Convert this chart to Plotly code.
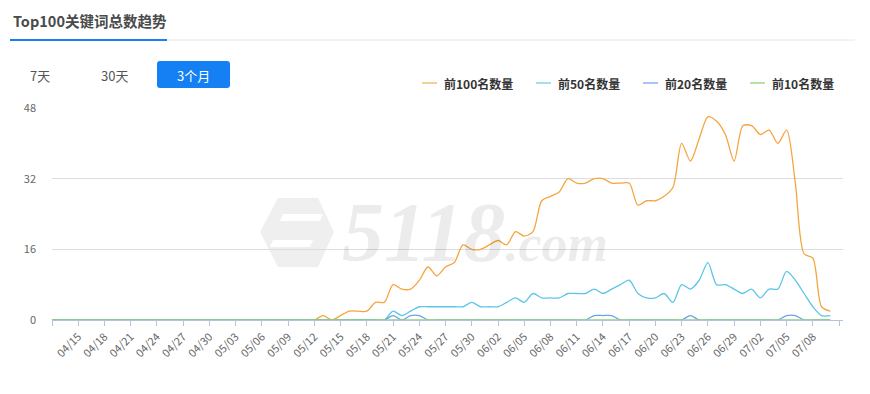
import plotly.graph_objects as go
import pandas as pd

# ---------------- data ----------------
dates = [d.strftime('%m/%d') for d in pd.date_range('2021-04-12', '2021-07-11')]

top100 = [0, 0, 0, 0, 0, 0, 0, 0, 0, 0,
          0, 0, 0, 0, 0, 0, 0, 0, 0, 0,
          0, 0, 0, 0, 0, 0, 0, 0, 0, 0,
          0, 1, 0, 1, 2, 2, 2, 4, 4, 8,
          7, 7, 9, 12, 10, 12, 13, 17, 16, 16,
          17, 18, 17, 20, 19, 20, 27, 28, 29, 32,
          31, 31, 32, 32, 31, 31, 31, 26, 27, 27,
          28, 30, 40, 36, 41, 46, 45, 42, 36, 44,
          44, 42, 43, 40, 43, 31, 15, 14, 3, 2]

top50 = [0, 0, 0, 0, 0, 0, 0, 0, 0, 0,
         0, 0, 0, 0, 0, 0, 0, 0, 0, 0,
         0, 0, 0, 0, 0, 0, 0, 0, 0, 0,
         0, 0, 0, 0, 0, 0, 0, 0, 0, 2,
         1, 2, 3, 3, 3, 3, 3, 3, 4, 3,
         3, 3, 4, 5, 4, 6, 5, 5, 5, 6,
         6, 6, 7, 6, 7, 8, 9, 6, 5, 5,
         6, 4, 8, 7, 9, 13, 8, 8, 7, 6,
         7, 5, 7, 7, 11, 9, 6, 3, 1, 1]

top20 = [0, 0, 0, 0, 0, 0, 0, 0, 0, 0,
         0, 0, 0, 0, 0, 0, 0, 0, 0, 0,
         0, 0, 0, 0, 0, 0, 0, 0, 0, 0,
         0, 0, 0, 0, 0, 0, 0, 0, 0, 1,
         0, 1, 1, 0, 0, 0, 0, 0, 0, 0,
         0, 0, 0, 0, 0, 0, 0, 0, 0, 0,
         0, 0, 1, 1, 1, 0, 0, 0, 0, 0,
         0, 0, 0, 1, 0, 0, 0, 0, 0, 0,
         0, 0, 0, 0, 1, 1, 0, 0, 0, 0]

top10 = [0, 0, 0, 0, 0, 0, 0, 0, 0, 0,
         0, 0, 0, 0, 0, 0, 0, 0, 0, 0,
         0, 0, 0, 0, 0, 0, 0, 0, 0, 0,
         0, 0, 0, 0, 0, 0, 0, 0, 0, 0,
         0, 0, 0, 0, 0, 0, 0, 0, 0, 0,
         0, 0, 0, 0, 0, 0, 0, 0, 0, 0,
         0, 0, 0, 0, 0, 0, 0, 0, 0, 0,
         0, 0, 0, 0, 0, 0, 0, 0, 0, 0,
         0, 0, 0, 0, 0, 0, 0, 0, 0, 0]

series_names = ['前100名数量', '前50名数量', '前20名数量', '前10名数量']
series_values = [top100, top50, top20, top10]
y_ticks = [0, 16, 32, 48]
tabs = ['7天', '30天', '3个月']
title_text = 'Top100关键词总数趋势'
watermark = '5118'
watermark_suffix = '.com'

# ---------------- style ----------------
# page body has an 8px default margin: figure is drawn 8px right/down
OFF = 8
W, H = 870 - OFF, 394 - OFF
L, R, T, B = 52, 843, 108, 320          # plot area in screenshot pixels
line_colors = ['#f6a43e', '#5cc6e8', '#6f9ff0', '#90d47c']
legend_colors = ['#f9cd98', '#a4def2', '#a8c5f5', '#b3e4a3']
FONT = 'Noto Sans CJK SC, Noto Sans, sans-serif'


def px(x):
    return (x - L) / (R - L)


def py(y):
    return (B - y) / (B - T)


fig = go.Figure()
x_idx = list(range(len(dates)))
for name, vals, col in zip(series_names, series_values, line_colors):
    fig.add_trace(go.Scatter(
        x=x_idx[:len(vals)], y=vals, name=name, mode='lines',
        line=dict(color=col, width=1.3, shape='spline', smoothing=0.8),
        showlegend=False, hoverinfo='skip'))

step = 3
tickvals = list(range(0, len(dates), step))
ticktext = [dates[i] if 0 < i < len(dates) - 1 else '' for i in tickvals]

shapes = []
annotations = []

# watermark logo (below traces)
hexagon = ('M {a},{b} L {c},{b} L {d},{e} L {c},{f} L {a},{f} L {g},{e} Z').format(
    a=px(278), b=py(198), c=px(318), d=px(334), e=py(232), f=py(267), g=px(260))
shapes.append(dict(type='path', path=hexagon, xref='paper', yref='paper',
                   fillcolor='#efefef', line=dict(width=0), layer='below'))
for (xa, xb, ya, yb) in [(283, 323, 214, 221), (273, 313, 240, 247)]:
    para = 'M {0},{1} L {2},{1} L {3},{4} L {5},{4} Z'.format(
        px(xa), py(ya), px(xb), px(xb - 3), py(yb), px(xa - 3))
    shapes.append(dict(type='path', path=para, xref='paper', yref='paper',
                       fillcolor='white', line=dict(width=0), layer='below'))
annotations.append(dict(
    text=watermark + "<span style='font-size:52px'>" + watermark_suffix + '</span>',
    xref='paper', yref='paper', x=px(340), y=py(232), xanchor='left', yanchor='middle',
    showarrow=False,
    font=dict(family='Liberation Serif, DejaVu Serif, serif', size=84,
              color='rgba(0,0,0,0.075)', style='italic', weight='bold')))

# title + underline
annotations.append(dict(text=title_text, xref='paper', yref='paper',
                        x=px(11), y=py(21), xanchor='left', yanchor='middle',
                        showarrow=False,
                        font=dict(family=FONT, size=14.5, color='#4a4a4a', weight='bold')))
shapes.append(dict(type='line', xref='paper', yref='paper',
                   x0=px(167), x1=px(855), y0=py(40), y1=py(40),
                   line=dict(color='#e6e6e6', width=1)))
shapes.append(dict(type='line', xref='paper', yref='paper',
                   x0=px(10), x1=px(167), y0=py(40), y1=py(40),
                   line=dict(color='#1a7ef2', width=2.2)))
shapes.append(dict(type='line', xref='paper', yref='paper',
                   x0=px(866), x1=px(866), y0=py(0), y1=py(394),
                   line=dict(color='#eeeeee', width=1)))

# tabs
r = 3
bx0, bx1, by0, by1 = px(157), px(230), py(61), py(88)
rx, ry = r / (R - L), r / (B - T)
btn = ('M {x0},{y0r} Q {x0},{y0} {x0r},{y0} L {x1r},{y0} Q {x1},{y0} {x1},{y0r} '
       'L {x1},{y1r} Q {x1},{y1} {x1r},{y1} L {x0r},{y1} Q {x0},{y1} {x0},{y1r} Z').format(
    x0=bx0, x1=bx1, y0=by0, y1=by1, x0r=bx0 + rx, x1r=bx1 - rx, y0r=by0 - ry, y1r=by1 + ry)
shapes.append(dict(type='path', path=btn, xref='paper', yref='paper',
                   fillcolor='#1480f4', line=dict(width=0)))
for t, cx, col in zip(tabs, [40, 114, 193], ['#555555', '#555555', '#ffffff']):
    annotations.append(dict(text=t, xref='paper', yref='paper', x=px(cx), y=py(75),
                            xanchor='center', yanchor='middle', showarrow=False,
                            font=dict(family=FONT, size=13, color=col)))

# legend
leg_line_x = [422, 536, 643, 750]
for name, lc, lx in zip(series_names, legend_colors, leg_line_x):
    shapes.append(dict(type='line', xref='paper', yref='paper',
                       x0=px(lx), x1=px(lx + 15), y0=py(83), y1=py(83),
                       line=dict(color=lc, width=2)))
    annotations.append(dict(text=name, xref='paper', yref='paper',
                            x=px(lx + 20), y=py(83), xanchor='left', yanchor='middle',
                            showarrow=False,
                            font=dict(family=FONT, size=12, color='#333333', weight='bold')))

fig.update_layout(
    width=W, height=H,
    margin=dict(l=L - OFF, r=870 - R, t=T - OFF, b=394 - B, pad=0),
    paper_bgcolor='white', plot_bgcolor='white',
    font=dict(family=FONT, size=11, color='#666666'),
    shapes=shapes, annotations=annotations,
    xaxis=dict(range=[0, len(dates) - 1 + 0.45], tickvals=tickvals, ticktext=ticktext,
               tickangle=-45, ticks='outside', ticklen=5, tickcolor='#b7c4d8',
               showline=True, linecolor='#b7c4d8', linewidth=1, showgrid=False,
               zeroline=False, tickfont=dict(size=11, color='#666666'),
               fixedrange=True),
    yaxis=dict(range=[0, 48], tickvals=y_ticks, showgrid=True, gridcolor='#dddddd',
               gridwidth=1, zeroline=False, showline=False, ticks='',
               ticklabelstandoff=15, tickfont=dict(size=11, color='#666666'),
               fixedrange=True),
)

fig.write_html('out.html')
